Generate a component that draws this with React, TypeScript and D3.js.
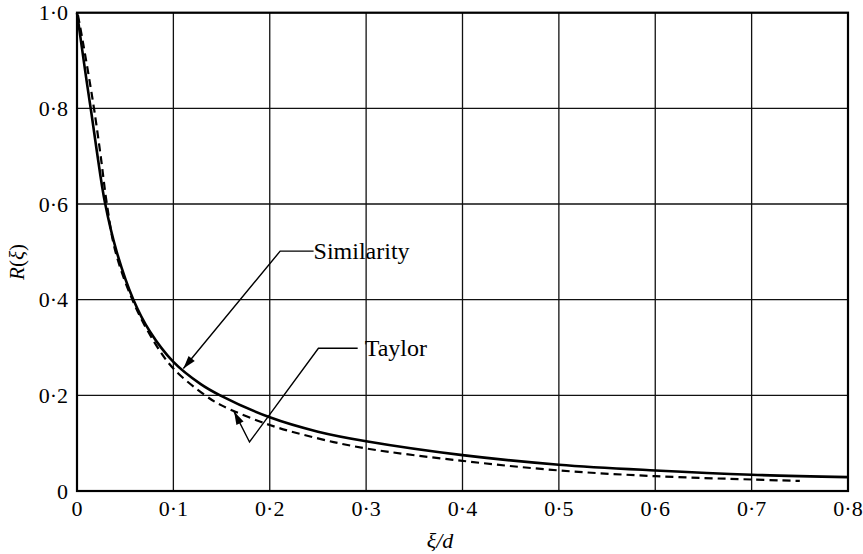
import React from "react";
import * as d3 from "d3";

const xTicks = [0, 0.1, 0.2, 0.3, 0.4, 0.5, 0.6, 0.7, 0.8];
const xTickLabels = ["0", "0·1", "0·2", "0·3", "0·4", "0·5", "0·6", "0·7", "0·8"];
const yTicks = [0, 0.2, 0.4, 0.6, 0.8, 1.0];
const yTickLabels = ["0", "0·2", "0·4", "0·6", "0·8", "1·0"];

const simX = [0, 0.005, 0.01, 0.0153, 0.0204, 0.029, 0.0412, 0.0585, 0.0758, 0.1, 0.128, 0.1485, 0.2, 0.25, 0.3, 0.4, 0.5, 0.6, 0.7, 0.8];
const simR = [1.0, 0.928, 0.857, 0.785, 0.713, 0.603, 0.5, 0.4, 0.333, 0.27, 0.224, 0.2, 0.154, 0.124, 0.104, 0.075, 0.055, 0.043, 0.034, 0.029];

const tayX = [0.001, 0.006, 0.012, 0.018, 0.0246, 0.031, 0.04, 0.0585, 0.08, 0.1, 0.133, 0.15, 0.2, 0.25, 0.3, 0.4, 0.5, 0.6, 0.7, 0.75];
const tayR = [0.995, 0.94, 0.87, 0.795, 0.7, 0.6, 0.5, 0.395, 0.312, 0.256, 0.2, 0.179, 0.138, 0.11, 0.089, 0.063, 0.043, 0.031, 0.024, 0.021];

// annotation anchor points in data units
const simLabel = "Similarity";
const simTip = [0.1104, 0.256];
const simElbow = [0.2108, 0.5015];
const simText = [0.2455, 0.5015];
const tayLabel = "Taylor";
const tayTip = [0.163, 0.166];
const tayVertex = [0.179, 0.1025];
const tayElbow = [0.2505, 0.2985];
const tayText = [0.2985, 0.2985];

const W = 863;
const H = 554;
const x0 = 77, x1 = 848, y0 = 491, y1 = 12.7;

function arrowHead(tip: number[], from: number[], len = 13, half = 4) {
  const dx = tip[0] - from[0];
  const dy = tip[1] - from[1];
  const d = Math.hypot(dx, dy);
  const ux = dx / d, uy = dy / d;
  const bx = tip[0] - ux * len, by = tip[1] - uy * len;
  const px = -uy, py = ux;
  return `M${tip[0]},${tip[1]}L${bx + px * half},${by + py * half}L${bx - px * half},${by - py * half}Z`;
}

export default function App() {
  const x = d3.scaleLinear().domain([0, 0.8]).range([x0, x1]);
  const y = d3.scaleLinear().domain([0, 1]).range([y0, y1]);

  const simPts: [number, number][] = simX.map((v, i) => [x(v), y(simR[i])]);
  const tayPts: [number, number][] = tayX.map((v, i) => [x(v), y(tayR[i])]);
  const gen = d3.line().curve(d3.curveCatmullRom.alpha(0.5));

  const P = (p: number[]) => [x(p[0]), y(p[1])];
  const sTip = P(simTip), sEl = P(simElbow), sTx = P(simText);
  const tTip = P(tayTip), tV = P(tayVertex), tEl = P(tayElbow), tTx = P(tayText);

  const font = "Liberation Serif, Tinos, Times New Roman, DejaVu Serif, serif";

  return (
    <svg width={W} height={H} style={{ position: "absolute", left: 0, top: 0, background: "#fff", fontFamily: font }}>
      {/* grid */}
      {xTicks.map((t) => (
        <line key={"gx" + t} x1={x(t)} x2={x(t)} y1={y(0)} y2={y(1)} stroke="#111" strokeWidth={1.3} />
      ))}
      {yTicks.map((t) => (
        <line key={"gy" + t} x1={x(0)} x2={x(0.8)} y1={y(t)} y2={y(t)} stroke="#111" strokeWidth={1.3} />
      ))}
      <rect x={x(0)} y={y(1)} width={x(0.8) - x(0)} height={y(0) - y(1)} fill="none" stroke="#000" strokeWidth={2.2} />

      {/* tick labels */}
      {yTicks.map((t, i) => (
        <text key={"yl" + t} x={68} y={y(t)} dy="0.35em" textAnchor="end" fontSize={22} fill="#000" style={{ fontFamily: font }}>
          {yTickLabels[i]}
        </text>
      ))}
      {xTicks.map((t, i) => (
        <text key={"xl" + t} x={x(t)} y={516} textAnchor="middle" fontSize={22} fill="#000" style={{ fontFamily: font }}>
          {xTickLabels[i]}
        </text>
      ))}

      {/* axis titles */}
      <text x={440} y={548} textAnchor="middle" fontSize={22} fontStyle="italic" fill="#000" style={{ fontFamily: font }}>
        ξ/d
      </text>
      <text transform={`translate(24,262) rotate(-90)`} textAnchor="middle" fontSize={21} fill="#000" style={{ fontFamily: font }}>
        <tspan fontStyle="italic">R</tspan>(<tspan fontStyle="italic">ξ</tspan>)
      </text>

      {/* curves */}
      <path d={gen(tayPts) || ""} fill="none" stroke="#000" strokeWidth={2.2} strokeDasharray="8,5" />
      <path d={gen(simPts) || ""} fill="none" stroke="#000" strokeWidth={2.6} />

      {/* Similarity annotation */}
      <polyline points={`${sTx[0]},${sTx[1]} ${sEl[0]},${sEl[1]} ${sTip[0]},${sTip[1]}`} fill="none" stroke="#000" strokeWidth={1.4} />
      <path d={arrowHead(sTip, sEl)} fill="#000" />
      <text x={sTx[0]} y={sTx[1]} dy="0.33em" fontSize={24} fill="#000" style={{ fontFamily: font }}>
        {simLabel}
      </text>

      {/* Taylor annotation */}
      <polyline
        points={`${tTx[0] - 7},${tTx[1]} ${tEl[0]},${tEl[1]} ${tV[0]},${tV[1]} ${tTip[0]},${tTip[1]}`}
        fill="none"
        stroke="#000"
        strokeWidth={1.4}
      />
      <path d={arrowHead(tTip, tV)} fill="#000" />
      <text x={tTx[0]} y={tTx[1]} dy="0.33em" fontSize={24} fill="#000" style={{ fontFamily: font }}>
        {tayLabel}
      </text>
    </svg>
  );
}
